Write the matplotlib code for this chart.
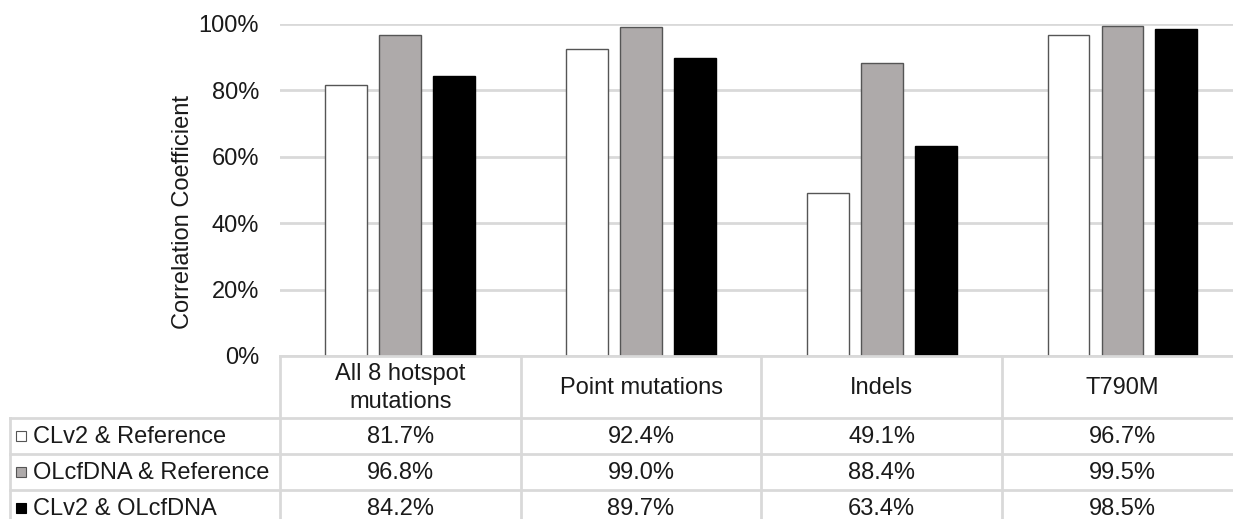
import numpy as np
import matplotlib
matplotlib.use("Agg")
from matplotlib import pyplot as plt
from matplotlib.patches import Rectangle

plt.rcParams['font.family'] = ['Liberation Sans', 'DejaVu Sans']

categories = ["All 8 hotspot\nmutations", "Point mutations", "Indels", "T790M"]
series_names = ["CLv2 & Reference", "OLcfDNA & Reference", "CLv2 & OLcfDNA"]
clv2_ref = [81.7, 92.4, 49.1, 96.7]
olcf_ref = [96.8, 99.0, 88.4, 99.5]
clv2_olcf = [84.2, 89.7, 63.4, 98.5]
yticks = [0, 20, 40, 60, 80, 100]

series = [clv2_ref, olcf_ref, clv2_olcf]
colors = ["#ffffff", "#aeaaaa", "#000000"]
edges = ["#555555", "#555555", "#000000"]
fs = 17
txt_c = "#1a1a1a"

W, H = 1233, 519
fig = plt.figure(figsize=(W / 100, H / 100), dpi=100)

# chart area: 0% at y=356 px, 100% at y=24 px, categories 240.7 px wide from x=280
x0, cw = 280, 240.7
ax = fig.add_axes([x0 / W, (H - 356) / H, 4 * cw / W, (356 - 24) / H])
x = np.arange(len(categories))
bw = 0.174
step = 0.224
for i, (vals, c, ec) in enumerate(zip(series, colors, edges)):
    ax.bar(x + (i - 1) * step, vals, width=bw, color=c, edgecolor=ec,
           linewidth=1.0, zorder=3, label=series_names[i])
ax.set_xlim(-0.5, len(categories) - 0.5)
ax.set_ylim(0, 100)
ax.set_yticks(yticks)
ax.set_yticklabels([f"{t}%" for t in yticks], fontsize=fs, color=txt_c)
ax.tick_params(axis="y", length=0, pad=15)
ax.set_xticks([])
ax.yaxis.grid(True, color="#d9d9d9", linewidth=2, zorder=0)
for s in ax.spines.values():
    s.set_visible(False)

# data table below the chart, in pixel coordinates
tb = fig.add_axes([0, 0, 1, 1], zorder=5)
tb.set_xlim(0, W)
tb.set_ylim(H, 0)
tb.axis("off")
tb.patch.set_alpha(0)

# axis title sits a bit below the middle of the value axis
tb.text(183, 212, "Correlation Coefficient", rotation=90, ha="center",
        va="center", fontsize=fs, color=txt_c)

grid_c = "#d9d9d9"
lw = 2
col_x = [x0 + k * cw for k in range(len(categories) + 1)]
head_top, head_bot = 356, 418
row_h = 36
row_y = [head_bot + k * row_h for k in range(len(series) + 1)]
left = 10

# horizontal lines
tb.plot([x0, W], [head_top, head_top], color=grid_c, lw=lw)
for y in row_y:
    tb.plot([left, W], [y, y], color=grid_c, lw=lw)
# vertical lines
for cx in col_x[:-1]:
    tb.plot([cx, cx], [head_top, H], color=grid_c, lw=lw)
tb.plot([left, left], [head_bot, H], color=grid_c, lw=lw)

for k, cat in enumerate(categories):
    cx = x0 + (k + 0.5) * cw
    tb.text(cx, (head_top + head_bot) / 2 + 1, cat, ha="center", va="center",
            fontsize=fs, color=txt_c, linespacing=1.4)
    for r, vals in enumerate(series):
        tb.text(cx, row_y[r] + row_h / 2 + 1, f"{vals[k]:.1f}%", ha="center",
                va="center", fontsize=fs, color=txt_c)

for r, name in enumerate(series_names):
    cy = row_y[r] + row_h / 2
    tb.add_patch(Rectangle((16, cy - 5), 10, 10, facecolor=colors[r],
                           edgecolor=edges[r], lw=0.8))
    tb.text(33, cy + 1, name, ha="left", va="center", fontsize=fs, color=txt_c)

fig.savefig("out.png", dpi=100)
